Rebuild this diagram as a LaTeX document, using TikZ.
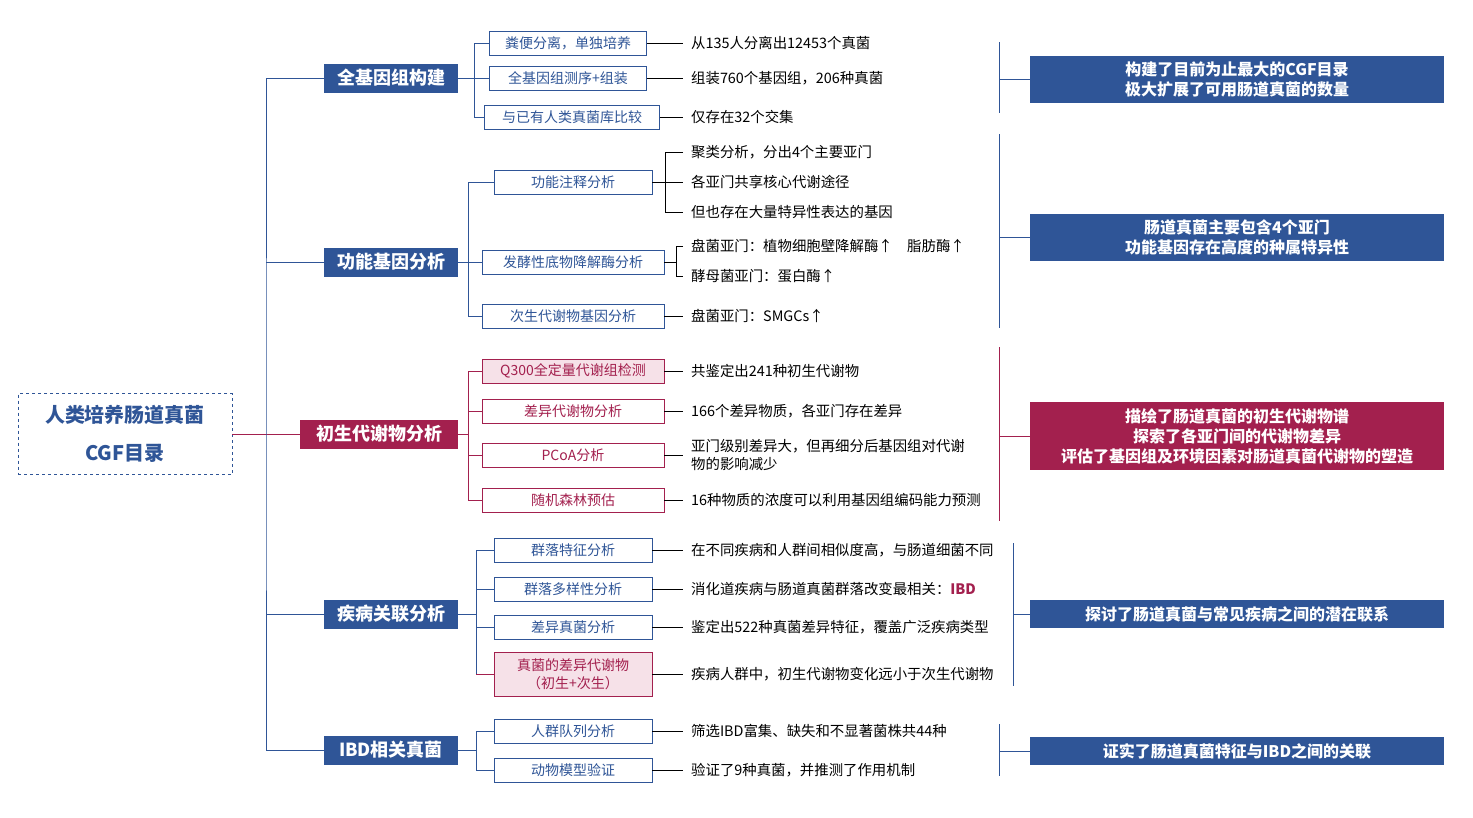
\documentclass[tikz,border=0pt]{standalone}
\usepackage{fontspec}
\setmainfont{Noto Sans CJK SC}
\usetikzlibrary{positioning}
\definecolor{cblue}{HTML}{2F5597}
\definecolor{cmag}{HTML}{A3204E}
\definecolor{cpink}{HTML}{F6E1E8}
\tikzset{
  lone/.style={fill=cblue,text=white,font=\fontsize{18}{20}\selectfont\bfseries,minimum width=134pt,minimum height=29pt,inner sep=1pt},
  ltwo/.style={draw=cblue,thick,text=cblue,fill=white,font=\fontsize{14}{16}\selectfont,minimum height=24pt,inner sep=2pt},
  lpink/.style={ltwo,draw=cmag,text=cmag,fill=cpink},
  leaf/.style={anchor=west,font=\fontsize{14.4}{16}\selectfont,inner xsep=8pt,inner ysep=1pt},
  rbox/.style={fill=cblue,text=white,font=\fontsize{16}{20}\selectfont\bfseries,minimum width=414pt,align=center,inner sep=2pt},
  ln/.style={cblue,thick},
  mln/.style={cmag,thick},
}
\begin{document}
\begin{tikzpicture}[x=1pt,y=-1pt]
      \useasboundingbox (0,0) rectangle (1473,817);
      \node[draw=cblue,thick,dashed,text=cblue,minimum width=214pt,minimum height=81pt,align=center,
            font=\fontsize{20}{38}\selectfont\bfseries] (root) at (125,434) {人类培养肠道真菌\\CGF目录};

      % first level
      \node[lone] (gen) at (391,78) {全基因组构建};
      \node[lone] (fun) at (391,262) {功能基因分析};
      \node[lone,fill=cmag,minimum width=158pt] (met) at (379,434) {初生代谢物分析};
      \node[lone] (dis) at (391,614) {疾病关联分析};
      \node[lone] (ibd) at (391,750) {IBD相关真菌};
      \coordinate (sp) at (266,434);
      \draw[mln] (root.east) -- (met.west);
      \draw[ln] (gen.west) -| (sp) |- (ibd.west);
      \draw[ln] (fun.west) -- (fun.west -| sp);
      \draw[ln] (dis.west) -- (dis.west -| sp);

      % second level
      \node[ltwo,minimum width=157pt] (g1) at (568,43) {粪便分离，单独培养};
      \node[ltwo,minimum width=157pt] (g2) at (568,78) {全基因组测序+组装};
      \node[ltwo,minimum width=175pt] (g3) at (572,117) {与已有人类真菌库比较};
      \draw[ln] (gen.east) -- (474,78);
      \draw[ln] (g1.west) -| (474,117) -- (g3.west);
      \draw[ln] (g2.west) -- (474,78);

      \node[ltwo,minimum width=158pt] (f1) at (573,182) {功能注释分析};
      \node[ltwo,minimum width=182pt] (f2) at (573,262) {发酵性底物降解酶分析};
      \node[ltwo,minimum width=182pt] (f3) at (573,316) {次生代谢物基因分析};
      \draw[ln] (fun.east) -- (468,262);
      \draw[ln] (f1.west) -| (468,316) -- (f3.west);
      \draw[ln] (f2.west) -- (468,262);

      \node[lpink,minimum width=182pt] (m1) at (573,371) {Q300全定量代谢组检测};
      \node[ltwo,draw=cmag,text=cmag,minimum width=182pt] (m2) at (573,411) {差异代谢物分析};
      \node[ltwo,draw=cmag,text=cmag,minimum width=182pt] (m3) at (573,455) {PCoA分析};
      \node[ltwo,draw=cmag,text=cmag,minimum width=182pt] (m4) at (573,500) {随机森林预估};
      \draw[mln] (met.east) -- (468,434);
      \draw[mln] (m1.west) -| (468,500) -- (m4.west);
      \draw[mln] (m2.west) -- (468,411);
      \draw[mln] (m3.west) -- (468,455);

      \node[ltwo,minimum width=158pt] (d1) at (573,550) {群落特征分析};
      \node[ltwo,minimum width=158pt] (d2) at (573,589) {群落多样性分析};
      \node[ltwo,minimum width=158pt] (d3) at (573,627) {差异真菌分析};
      \node[lpink,minimum width=158pt,minimum height=44pt,align=center,font=\fontsize{14}{18}\selectfont] (d4) at (573,674) {真菌的差异代谢物\\（初生+次生）};
      \draw[ln] (dis.east) -- (476,614);
      \draw[ln] (d1.west) -| (476,674);
      \draw[ln] (d2.west) -- (476,589);
      \draw[ln] (d3.west) -- (476,627);
      \draw[mln] (476,674) -- (d4.west);

      \node[ltwo,minimum width=158pt] (b1) at (573,731) {人群队列分析};
      \node[ltwo,minimum width=158pt] (b2) at (573,770) {动物模型验证};
      \draw[ln] (ibd.east) -- (476,750);
      \draw[ln] (b1.west) -| (476,770) -- (b2.west);

      % leaves
      \node[leaf] (x1) at (683,43) {从135人分离出12453个真菌};
      \node[leaf] (x2) at (683,78) {组装760个基因组，206种真菌};
      \node[leaf] (x3) at (683,117) {仅存在32个交集};
      \foreach \a/\b in {g1/x1,g2/x2,g3/x3} \draw (\a.east) -- (\b.west);

      \node[leaf] (y1) at (683,152) {聚类分析，分出4个主要亚门};
      \node[leaf] (y2) at (683,182) {各亚门共享核心代谢途径};
      \node[leaf] (y3) at (683,212) {但也存在大量特异性表达的基因};
      \draw (f1.east) -- (665,182) (y1.west) -| (665,212) -- (y3.west) (665,182) -- (y2.west);
      \node[leaf] (y4) at (683,246) {盘菌亚门：植物细胞壁降解酶↑\quad 脂肪酶↑};
      \node[leaf] (y5) at (683,276) {酵母菌亚门：蛋白酶↑};
      \draw (f2.east) -- (676,262);
      \draw (y4.west) -| (676,276) -- (y5.west);
      \node[leaf] (y6) at (683,316) {盘菌亚门：SMGCs↑};
      \draw (f3.east) -- (y6.west);

      \node[leaf] (z1) at (683,371) {共鉴定出241种初生代谢物};
      \node[leaf] (z2) at (683,411) {166个差异物质，各亚门存在差异};
      \node[leaf,align=left,font=\fontsize{14.4}{18}\selectfont] (z3) at (683,455) {亚门级别差异大，但再细分后基因组对代谢\\物的影响减少};
      \node[leaf] (z4) at (683,500) {16种物质的浓度可以利用基因组编码能力预测};
      \foreach \a/\b in {m1/z1,m2/z2,m4/z4} \draw (\a.east) -- (\b.west);
      \draw (m3.east) -- (683,455);

      \node[leaf] (w1) at (683,550) {在不同疾病和人群间相似度高，与肠道细菌不同};
      \node[leaf] (w2) at (683,589) {消化道疾病与肠道真菌群落改变最相关：\textcolor{cmag}{\bfseries IBD}};
      \node[leaf] (w3) at (683,627) {鉴定出522种真菌差异特征，覆盖广泛疾病类型};
      \node[leaf] (w4) at (683,674) {疾病人群中，初生代谢物变化远小于次生代谢物};
      \foreach \a/\b in {d1/w1,d2/w2,d3/w3,d4/w4} \draw (\a.east) -- (\b.west);

      \node[leaf] (v1) at (683,731) {筛选IBD富集、缺失和不显著菌株共44种};
      \node[leaf] (v2) at (683,770) {验证了9种真菌，并推测了作用机制};
      \foreach \a/\b in {b1/v1,b2/v2} \draw (\a.east) -- (\b.west);

      % conclusions
      \node[rbox,minimum height=47pt] (r1) at (1237,79) {构建了目前为止最大的CGF目录\\极大扩展了可用肠道真菌的数量};
      \node[rbox,minimum height=47pt] (r2) at (1237,237) {肠道真菌主要包含4个亚门\\功能基因存在高度的种属特异性};
      \node[rbox,fill=cmag,minimum height=68pt] (r3) at (1237,436) {描绘了肠道真菌的初生代谢物谱\\探索了各亚门间的代谢物差异\\评估了基因组及环境因素对肠道真菌代谢物的塑造};
      \node[rbox,minimum height=28pt] (r4) at (1237,614) {探讨了肠道真菌与常见疾病之间的潜在联系};
      \node[rbox,minimum height=28pt] (r5) at (1237,751) {证实了肠道真菌特征与IBD之间的关联};
      \draw[ln] (999,42) -- (999,113) (999,79) -- (r1.west);
      \draw[ln] (999,134) -- (999,328) (999,237) -- (r2.west);
      \draw[mln] (999,347) -- (999,521) (999,436) -- (r3.west);
      \draw[ln] (1013,543) -- (1013,686) (1013,614) -- (r4.west);
      \draw[ln] (999,724) -- (999,776) (999,751) -- (r5.west);
\end{tikzpicture}
\end{document}
